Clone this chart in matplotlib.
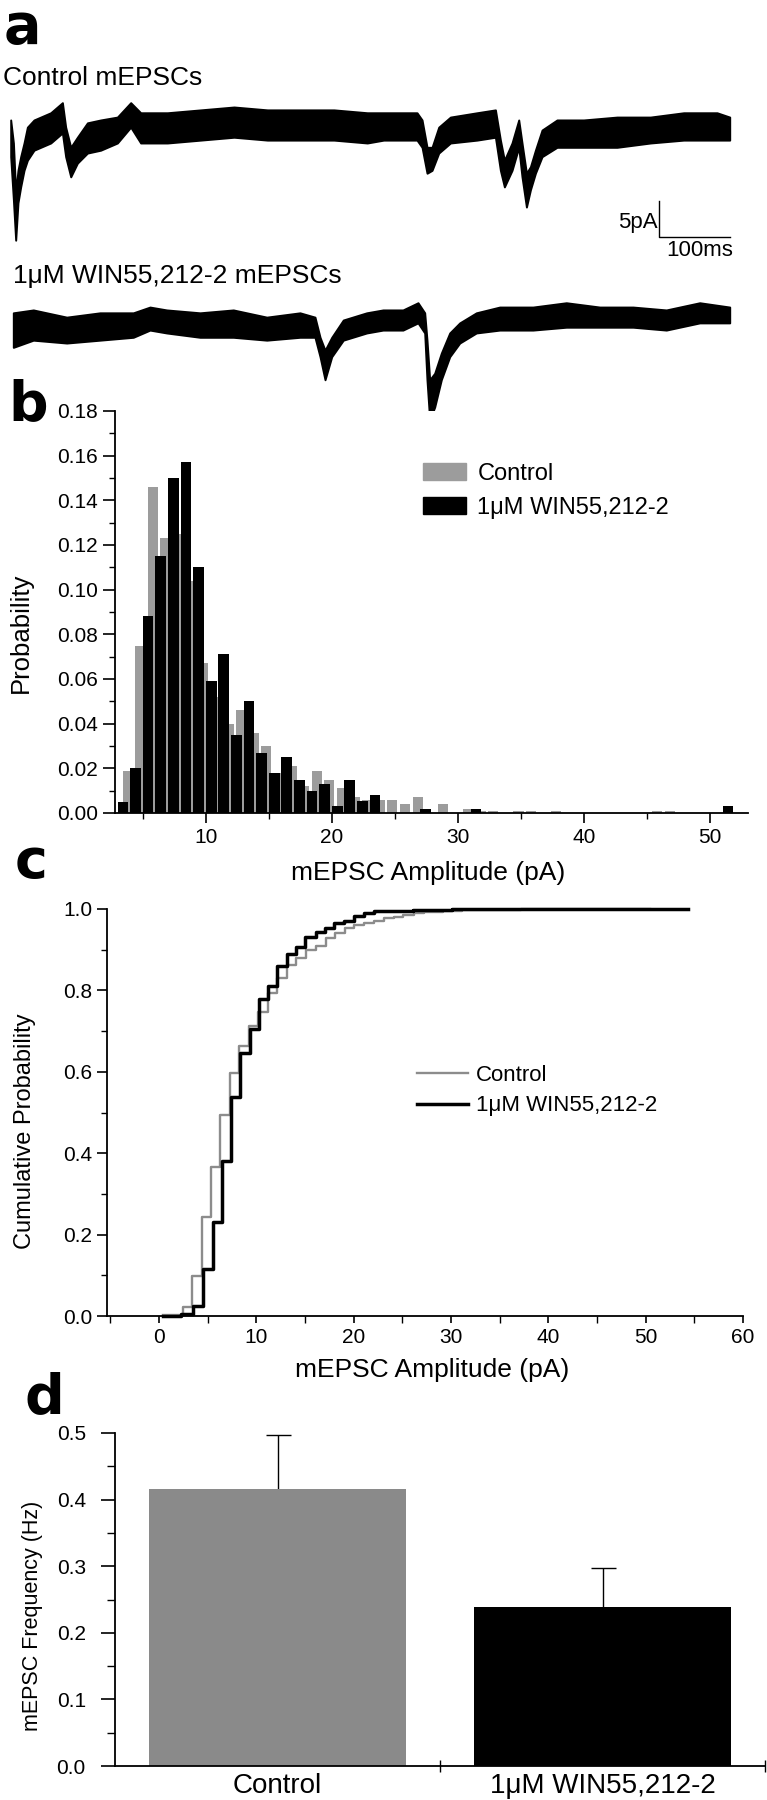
import matplotlib
matplotlib.use("Agg")
import numpy as np
import matplotlib.pyplot as plt
from matplotlib.ticker import MultipleLocator, FormatStrFormatter
from matplotlib.patches import Patch

W, H = 767, 1800
plt.rcParams["font.family"] = ["Liberation Sans", "DejaVu Sans"]

GRAY_BAR = "#9c9c9c"
GRAY_D = "#8a8a8a"
GRAY_LINE = "#8c8c8c"

# --- panel a: envelope of the noisy current records (ms, pA) ---
ctrl_t = [0, 3.8, 7.0, 10.2, 14.0, 18.7, 23.4, 32.7, 56.1, 72.5, 77.1, 84.2, 93.5, 107.6, 126.2,
          149.6, 168.3, 182.3, 219.8, 266.5, 313.2, 360.0, 406.7, 453.4, 500.1, 523.1, 569.8, 576.9,
          583.9, 590.9, 600.3, 616.7, 654.0, 679.8, 686.8, 692.4, 703.1, 712.5, 717.1, 723.3, 728.9,
          735.9, 745.2, 766.2, 803.6, 850.4, 897.2, 943.9, 990.6, 1008.4]
ctrl_hi = [0.7, -2.5, -9.4, -6.3, -4.4, -2.5, -0.3, 0.7, 1.7, 3.1, -0.3, -3.1, -1.7, 0.3, 0.7,
           1.1, 3.1, 1.7, 1.7, 2.1, 2.5, 2.1, 2.1, 2.1, 1.7, 1.7, 1.7, 0.7,
           -3.1, -3.1, -0.3, 1.1, 1.7, 2.1, -2.1, -4.9, -2.5, 0.7, -2.5, -6.7, -5.8,
           -3.5, -0.7, 0.7, 0.7, 1.1, 1.1, 1.7, 1.7, 1.1]
ctrl_lo = [-4.4, -10.4, -16.0, -10.8, -8.6, -6.3, -4.9, -3.5, -2.5, -1.1, -4.4, -7.2, -5.3, -3.9, -3.5,
           -2.5, -0.3, -2.5, -2.5, -2.1, -1.7, -2.1, -2.1, -2.1, -2.5, -2.1, -2.1, -3.1,
           -6.7, -6.3, -3.9, -2.5, -2.1, -1.7, -6.3, -8.6, -6.3, -3.1, -7.2, -11.4, -9.0,
           -6.7, -4.4, -3.1, -3.1, -3.1, -2.5, -2.1, -2.1, -2.1]

win_t = [0, 28.1, 74.9, 121.6, 168.3, 191.7, 215.1, 261.9, 308.6, 355.5, 402.1, 423.1, 430.2, 437.2,
         446.6, 462.8, 495.6, 518.5, 546.5, 567.6, 577.0, 580.2, 584.0, 591.0, 600.3, 612.1, 626.1,
         649.4, 682.2, 728.9, 775.6, 822.5, 869.2, 915.9, 962.7, 1004.8]
win_hi = [1.0, 1.4, 0.4, 1.0, 1.0, 1.8, 1.4, 1.0, 1.4, 0.4, 1.0, 0.4, -2.4, -4.2,
          -2.4, 0.0, 1.0, 1.4, 1.4, 2.4, 1.0, -2.8, -8.3, -7.4, -4.6, -1.8, -0.4,
          1.0, 1.8, 1.8, 2.4, 1.8, 1.8, 1.4, 2.4, 1.8]
win_lo = [-3.8, -2.8, -3.2, -2.8, -2.4, -1.4, -1.8, -2.4, -2.4, -2.8, -2.4, -2.4, -5.1, -8.3,
          -5.1, -2.8, -1.8, -1.4, -1.4, -0.4, -1.8, -8.3, -13.9, -12.1, -8.3, -5.1, -3.2,
          -1.8, -1.4, -1.4, -1.0, -1.0, -1.0, -1.4, -0.4, -0.4]

SCALE_MS = 100
SCALE_PA = 5

# --- panel b: amplitude histograms, 1 pA bins (left edge) ---
amp_bins = list(range(3, 53))
ctrl_prob = [0.019, 0.075, 0.146, 0.123, 0.125, 0.104, 0.067, 0.052, 0.040, 0.046,
             0.036, 0.030, 0.018, 0.021, 0.012, 0.019, 0.015, 0.011, 0.007, 0.006,
             0.006, 0.006, 0.004, 0.007, 0.0, 0.004, 0.0, 0.002, 0.001, 0.001,
             0.0, 0.001, 0.001, 0.0, 0.001, 0, 0, 0, 0, 0,
             0, 0, 0.001, 0.001, 0, 0, 0, 0, 0, 0]
win_prob = [0.005, 0.020, 0.088, 0.115, 0.150, 0.157, 0.110, 0.059, 0.071, 0.035,
            0.050, 0.027, 0.018, 0.025, 0.015, 0.010, 0.013, 0.003, 0.015, 0.0055,
            0.008, 0, 0, 0, 0.002, 0, 0, 0, 0.002, 0,
            0, 0, 0, 0, 0, 0, 0, 0, 0, 0,
            0, 0, 0, 0, 0, 0, 0, 0, 0.003, 0]

# --- panel c: cumulative distributions (step edges, pA) ---
ctrl_cdf_x = [0.4, 2.42, 3.35, 4.38, 5.31, 6.27, 7.24, 8.21, 9.2, 10.17, 11.17, 12.14, 13.1, 14.1,
              15.07, 16.1, 17.14, 18.1, 19.1, 20.07, 21.1, 22.13, 23.16, 24.1, 25.1, 26.2, 27.2,
              29.2, 31.1, 34.3, 37.2, 45.2, 50.4]
ctrl_cdf_y = [0.002, 0.023, 0.098, 0.244, 0.365, 0.494, 0.598, 0.664, 0.713, 0.748, 0.794, 0.831,
              0.862, 0.879, 0.899, 0.91, 0.928, 0.942, 0.953, 0.961, 0.966, 0.97, 0.977, 0.981,
              0.985, 0.99, 0.993, 0.996, 0.997, 0.998, 0.999, 1.0, 1.0]
win_cdf_x = [0.4, 2.3, 3.45, 4.48, 5.59, 6.45, 7.38, 8.35, 9.3, 10.24, 11.17, 12.1, 13.1, 14.1,
             15.0, 16.1, 17.0, 18.0, 19.0, 20.07, 21.1, 22.1, 26.1, 30.1, 50.3, 54.4]
win_cdf_y = [0.0, 0.005, 0.025, 0.115, 0.232, 0.38, 0.537, 0.647, 0.705, 0.778, 0.811, 0.86,
             0.889, 0.906, 0.93, 0.944, 0.954, 0.966, 0.971, 0.983, 0.99, 0.996, 0.998, 0.999,
             1.0, 1.0]

# --- panel d: mean frequency +/- SEM ---
groups = ["Control", "1\u03bcM WIN55,212-2"]
freq_mean = [0.416, 0.239]
freq_sem = [0.081, 0.059]

fig = plt.figure(figsize=(W / 100, H / 100), dpi=100)


def box(x0, y0, x1, y1):
    return fig.add_axes([x0 / W, 1 - y1 / H, (x1 - x0) / W, (y1 - y0) / H])


def ftext(x, y, s, **kw):
    fig.text(x / W, 1 - y / H, s, **kw)


LETTER = dict(fontsize=40, fontweight="bold", family=["Liberation Sans Narrow", "DejaVu Sans"],
              ha="left")
ftext(4, 1, "a", va="top", **LETTER)
ftext(8, 420, "b", va="baseline", **LETTER)
ftext(15, 878, "c", va="baseline", **LETTER)
ftext(24, 1413, "d", va="baseline", **LETTER)


def trace(ax, t, lo, hi):
    # the record drawn as its noise band
    ax.fill_between(t, lo, hi, facecolor="black", edgecolor="black", lw=1.4)
    ax.axis("off")


# ---- a ----
ftext(3, 85, "Control mEPSCs", fontsize=19, va="baseline")
ftext(13, 283, "1\u03bcM WIN55,212-2 mEPSCs", fontsize=19, va="baseline")

ax = box(0, 90, 767, 260)
trace(ax, ctrl_t, ctrl_lo, ctrl_hi)
sx, sy = 909, -15.5
ax.plot([sx, sx, sx + SCALE_MS], [sy + SCALE_PA, sy, sy], color="black", lw=1.0)
ax.text(sx - 2, sy + 1.9, "5pA", ha="right", va="center", fontsize=16)
ax.text(sx + 11, sy - 2.0, "100ms", ha="left", va="center", fontsize=16)
ax.set_xlim(-15.0, 1060.7)
ax.set_ylim(-18.75, 4.86)

ax = box(0, 290, 767, 440)
trace(ax, win_t, win_lo, win_hi)
ax.set_xlim(-18.65, 1057.1)
ax.set_ylim(-16.67, 4.17)


def style(ax):
    for s in ("top", "right"):
        ax.spines[s].set_visible(False)
    for s in ("left", "bottom"):
        ax.spines[s].set_linewidth(1.3)
    ax.tick_params(which="major", direction="out", length=7, width=1.2, labelsize=15)
    ax.tick_params(which="minor", direction="out", length=4, width=1.0)


# ---- b ----
ax = box(115, 411, 748, 813)
bins = np.array(amp_bins)
ax.bar(bins + 0.4, ctrl_prob, width=0.8, align="edge", color=GRAY_BAR, lw=0)
ax.bar(bins, win_prob, width=0.85, align="edge", color="black", lw=0)
ax.set_xlim(2.8, 53.0)
ax.set_ylim(0, 0.18)
style(ax)
ax.xaxis.set_major_locator(MultipleLocator(10))
ax.xaxis.set_minor_locator(MultipleLocator(5))
ax.yaxis.set_major_locator(MultipleLocator(0.02))
ax.yaxis.set_minor_locator(MultipleLocator(0.01))
ax.yaxis.set_major_formatter(FormatStrFormatter("%.2f"))
ax.tick_params(axis="y", which="major", length=9)
ax.legend(handles=[Patch(color=GRAY_BAR, label="Control"),
                   Patch(color="black", label="1\u03bcM WIN55,212-2")],
          loc="upper left", bbox_to_anchor=(423 / W, 1 - 463 / H), bbox_transform=fig.transFigure,
          frameon=False, fontsize=17, handlelength=1.8, handleheight=0.75,
          handletextpad=0.5, labelspacing=0.5, borderpad=0, borderaxespad=0)
ftext(21, 633, "Probability", fontsize=18.5, rotation=90, ha="center", va="center")
ftext(428, 873, "mEPSC Amplitude (pA)", fontsize=19, ha="center", va="center")

# ---- c ----
ax = box(107, 909, 743, 1316)
ax.step(ctrl_cdf_x, ctrl_cdf_y, where="post", color=GRAY_LINE, lw=1.7, clip_on=False,
        label="Control")
ax.step(win_cdf_x, win_cdf_y, where="post", color="black", lw=2.5, clip_on=False,
        label="1\u03bcM WIN55,212-2")
ax.set_xlim(-5.35, 60)
ax.set_ylim(0, 1.0)
style(ax)
ax.xaxis.set_major_locator(MultipleLocator(10))
ax.xaxis.set_minor_locator(MultipleLocator(5))
ax.yaxis.set_major_locator(MultipleLocator(0.2))
ax.yaxis.set_minor_locator(MultipleLocator(0.1))
ax.yaxis.set_major_formatter(FormatStrFormatter("%.1f"))
ax.tick_params(axis="x", which="both", length=5)
ax.legend(loc="upper left", bbox_to_anchor=(417 / W, 1 - 1065 / H), bbox_transform=fig.transFigure,
          frameon=False, fontsize=16, handlelength=2.3, handletextpad=0.35,
          labelspacing=0.42, borderpad=0, borderaxespad=0)
ftext(25, 1131, "Cumulative Probability", fontsize=17, rotation=90, ha="center", va="center")
ftext(432, 1370, "mEPSC Amplitude (pA)", fontsize=19, ha="center", va="center")

# ---- d ----
ax = box(115, 1433, 765, 1766)
xpos = np.arange(len(groups))
ax.bar(xpos, freq_mean, width=0.79, color=[GRAY_D, "black"], lw=0, zorder=2)
eb = ax.errorbar(xpos, freq_mean, yerr=[[0, 0], freq_sem], fmt="none", ecolor="black",
                 elinewidth=1.0, capsize=9, capthick=1.0, zorder=1)
eb[1][0].set_visible(False)
ax.set_xlim(-0.5, 1.5)
ax.set_ylim(0, 0.5)
style(ax)
ax.yaxis.set_major_locator(MultipleLocator(0.1))
ax.yaxis.set_minor_locator(MultipleLocator(0.05))
ax.yaxis.set_major_formatter(FormatStrFormatter("%.1f"))
ax.tick_params(axis="y", which="major", length=10, pad=11)
ax.tick_params(axis="y", which="minor", length=6)
ax.set_xticks(xpos)
ax.set_xticklabels(groups, fontsize=20)
ax.set_xticks([0.5, 1.5], minor=True)
ax.tick_params(axis="x", which="major", length=0, pad=5)
ax.tick_params(axis="x", which="minor", direction="inout", length=8)
ftext(33, 1616, "mEPSC Frequency (Hz)", fontsize=15.5, rotation=90, ha="center", va="center")

fig.savefig("out.png", dpi=100)
